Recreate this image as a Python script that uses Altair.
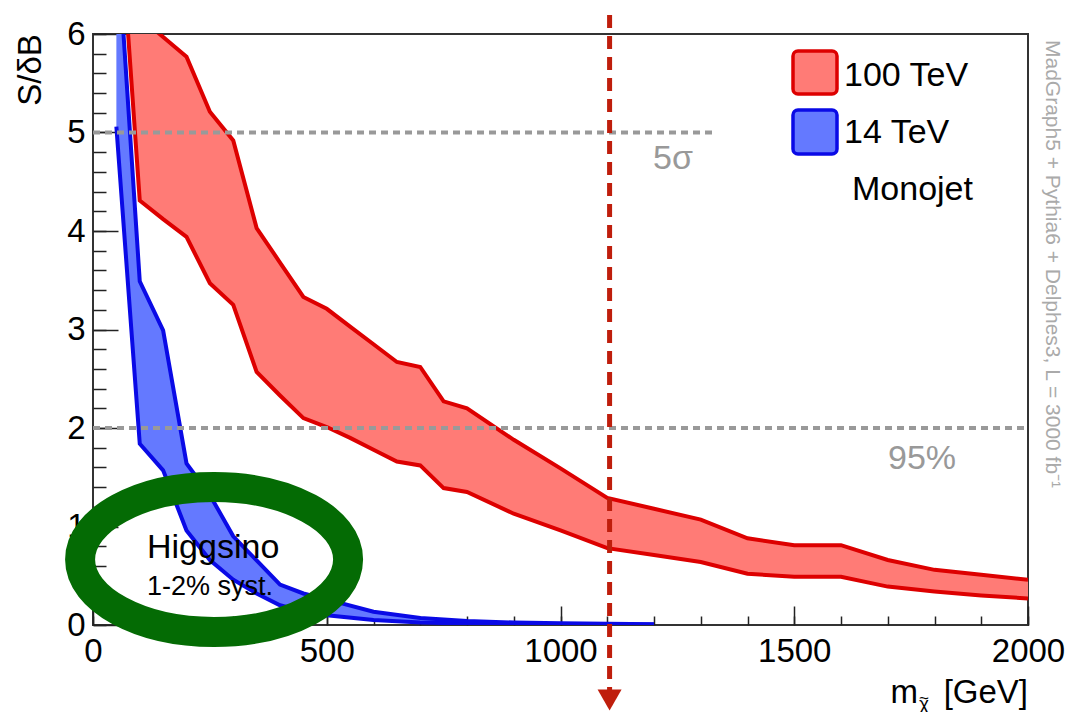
import altair as alt
import pandas as pd

# ---------------- data ----------------
red_m = [50, 100, 150, 200, 250, 300, 350, 400, 450, 500, 550, 600, 650, 700,
         750, 800, 900, 1000, 1100, 1200, 1300, 1400, 1500, 1600, 1700, 1800, 1900, 2000]
red_hi = [8.0, 6.17, 5.97, 5.77, 5.21, 4.92, 4.03, 3.68, 3.33, 3.21, 3.03, 2.85, 2.67, 2.62,
          2.27, 2.20, 1.88, 1.59, 1.29, 1.18, 1.07, 0.88, 0.81, 0.81, 0.66, 0.56, 0.51, 0.46]
red_lo = [7.7, 4.31, 4.12, 3.94, 3.47, 3.25, 2.57, 2.33, 2.10, 2.01, 1.90, 1.78, 1.66, 1.62,
          1.39, 1.35, 1.13, 0.96, 0.78, 0.71, 0.64, 0.52, 0.49, 0.49, 0.39, 0.34, 0.30, 0.27]

blue_m = [50, 100, 150, 200, 250, 300, 350, 400, 450, 500, 600, 700, 800, 900, 1000, 1100, 1200]
blue_hi = [7.1, 3.49, 2.99, 1.64, 1.32, 0.90, 0.655, 0.41, 0.32, 0.26, 0.135, 0.07, 0.04,
           0.025, 0.018, 0.012, 0.008]
blue_lo = [5.06, 1.84, 1.57, 0.96, 0.66, 0.46, 0.32, 0.20, 0.14, 0.10, 0.05, 0.025, 0.015,
           0.01, 0.007, 0.005, 0.004]

x_major = [0, 500, 1000, 1500, 2000]
x_minor = list(range(0, 2001, 100))
y_major = [0, 1, 2, 3, 4, 5, 6]
y_minor = [round(i * 0.2, 1) for i in range(31)]

ref_y = [5, 2]
ref_x0 = [0, 0]
ref_x1 = [1330, 2000]

limit_m = [1105]
circle_m = [259]
circle_s = [0.665]

FONT = "Liberation Sans"
RED_FILL, RED_LINE = "#ff7b76", "#dd0000"
BLUE_FILL, BLUE_LINE = "#6479ff", "#0a0ae6"

xs = alt.Scale(domain=[0, 2000], nice=False, zero=False)
ys = alt.Scale(domain=[0, 6], nice=False, zero=False)

common_axis = dict(domain=False, grid=False, title=None, tickColor="#222", tickWidth=1.5)
x_major_axis = alt.Axis(values=x_major, orient="bottom", offset=-19, tickSize=19,
                        labelFont=FONT, labelFontSize=33, labelColor="black", labelPadding=10,
                        labelFlush=False, labelOverlap=False, format="d", **common_axis)
x_minor_axis = alt.Axis(values=x_minor, orient="bottom", offset=-9, tickSize=9,
                        labels=False, **common_axis)
y_major_axis = alt.Axis(values=y_major, orient="left", offset=-25, tickSize=25,
                        labelFont=FONT, labelFontSize=33, labelColor="black", labelPadding=8,
                        labelFlush=False, labelOverlap=False, format="d", **common_axis)
y_minor_axis = alt.Axis(values=y_minor, orient="left", offset=-13, tickSize=13,
                        labels=False, **common_axis)

red_df = pd.DataFrame({"m": red_m, "lo": red_lo, "hi": red_hi})
blue_df = pd.DataFrame({"m": blue_m, "lo": blue_lo, "hi": blue_hi})

red_area = alt.Chart(red_df).mark_area(clip=True, color=RED_FILL, opacity=1).encode(
    x=alt.X("m:Q", scale=xs, axis=x_major_axis),
    y=alt.Y("lo:Q", scale=ys, axis=y_major_axis),
    y2="hi:Q",
)
red_lo_line = alt.Chart(red_df).mark_line(clip=True, color=RED_LINE, strokeWidth=4).encode(
    x=alt.X("m:Q", scale=xs, axis=None), y=alt.Y("lo:Q", scale=ys, axis=None))
red_hi_line = alt.Chart(red_df).mark_line(clip=True, color=RED_LINE, strokeWidth=4).encode(
    x=alt.X("m:Q", scale=xs, axis=None), y=alt.Y("hi:Q", scale=ys, axis=None))

blue_area = alt.Chart(blue_df).mark_area(clip=True, color=BLUE_FILL, opacity=1).encode(
    x=alt.X("m:Q", scale=xs, axis=x_minor_axis),
    y=alt.Y("lo:Q", scale=ys, axis=y_minor_axis),
    y2="hi:Q",
)
blue_lo_line = alt.Chart(blue_df).mark_line(clip=True, color=BLUE_LINE, strokeWidth=4).encode(
    x=alt.X("m:Q", scale=xs, axis=None), y=alt.Y("lo:Q", scale=ys, axis=None))
blue_hi_line = alt.Chart(blue_df).mark_line(clip=True, color=BLUE_LINE, strokeWidth=4).encode(
    x=alt.X("m:Q", scale=xs, axis=None), y=alt.Y("hi:Q", scale=ys, axis=None))

ref_df = pd.DataFrame({"y": ref_y, "x0": ref_x0, "x1": ref_x1})
ref_lines = alt.Chart(ref_df).mark_rule(color="#999999", strokeWidth=4, strokeDash=[7, 5]).encode(
    x=alt.X("x0:Q", scale=xs, axis=None), x2="x1:Q", y=alt.Y("y:Q", scale=ys, axis=None))

ellipse_path = "M -1 0 A 1 0.541 0 1 1 1 0 A 1 0.541 0 1 1 -1 0 Z"
ellipse = alt.Chart(pd.DataFrame({"m": circle_m, "s": circle_s})).mark_point(
    shape=ellipse_path, size=71824, filled=False, strokeWidth=30, color="#046b04", opacity=1
).encode(x=alt.X("m:Q", scale=xs, axis=None), y=alt.Y("s:Q", scale=ys, axis=None))

limit_df = pd.DataFrame({"m": limit_m})
limit_line = alt.Chart(limit_df).mark_rule(color="#bf1e0c", strokeWidth=5, strokeDash=[13, 8]).encode(
    x=alt.X("m:Q", scale=xs, axis=None), y=alt.value(-19), y2=alt.value(656))
limit_arrow = alt.Chart(limit_df).mark_point(
    shape="triangle-down", size=576, filled=True, color="#bf1e0c", opacity=1
).encode(x=alt.X("m:Q", scale=xs, axis=None), y=alt.value(666))


def label(text, x, y, size, color="black", align="left", baseline="middle", angle=0):
    kw = dict(font=FONT, fontSize=size, color=color, align=align, baseline=baseline)
    if angle:
        kw["angle"] = angle
    return alt.Chart(pd.DataFrame({"t": [text]})).mark_text(**kw).encode(
        text="t:N", x=alt.value(x), y=alt.value(y))


def swatch(x0, x1, y0, y1, fill, stroke):
    return alt.Chart(pd.DataFrame({"k": [0]})).mark_rect(
        cornerRadius=5, fill=fill, stroke=stroke, strokeWidth=3.5, opacity=1
    ).encode(x=alt.value(x0), x2=alt.value(x1), y=alt.value(y0), y2=alt.value(y1))


texts = [
    label("5σ", 560, 125, 34, color="#999999"),
    label("95%", 795, 425, 34, color="#999999"),
    label("Higgsino", 54, 524, 34, baseline="alphabetic"),
    label("1-2% syst.", 54, 561, 27, baseline="alphabetic"),
    swatch(700, 744, 17, 60, RED_FILL, RED_LINE),
    swatch(700, 744, 76, 120, BLUE_FILL, BLUE_LINE),
    label("100 TeV", 751, 42, 34),
    label("14 TeV", 751, 99, 34),
    label("Monojet", 759, 156, 34),
    label("S/δB", -62, 36, 33, align="center", angle=270),
    label("m", 825, 669, 33, align="right", baseline="alphabetic"),
    label("[GeV]", 935, 669, 33, align="right", baseline="alphabetic"),
    label("χ", 826, 676, 19, baseline="alphabetic"),
    label("~", 831, 665, 17, align="center"),
    label("MadGraph5 + Pythia6 + Delphes3, L = 3000 fb⁻¹", 959, 6, 21,
          color="#aaaaaa", angle=90),
]

chart = alt.layer(
    red_area, red_lo_line, red_hi_line,
    blue_area, blue_lo_line, blue_hi_line,
    ref_lines, ellipse, *texts, limit_line, limit_arrow,
).resolve_axis(x="independent", y="independent").properties(
    width=935, height=591,
    autosize=alt.AutoSizeParams(type="none"),
    padding={"left": 93, "top": 34, "right": 46, "bottom": 87},
    background="white",
).configure_view(stroke="#333333", strokeWidth=2)

chart.save("out.html", embed_options={"renderer": "svg", "actions": False})
